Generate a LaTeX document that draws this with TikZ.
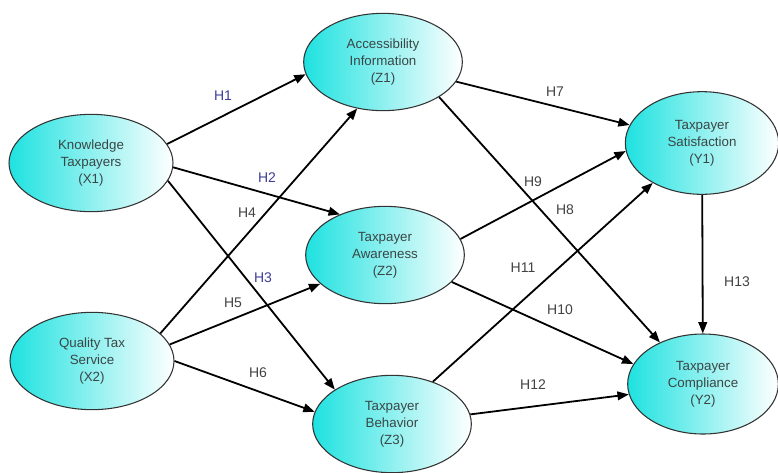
\documentclass[tikz,border=0pt]{standalone}
\usepackage{fontspec}
\setmainfont{Liberation Sans}
\usetikzlibrary{shapes.geometric,arrows.meta}
\definecolor{aqua}{RGB}{30,226,224}
\definecolor{inktext}{RGB}{58,70,70}
\definecolor{hblue}{RGB}{62,62,150}
\definecolor{hgray}{RGB}{66,66,66}

\begin{document}
\begin{tikzpicture}[x=0.75pt,y=-0.75pt,
    latent/.style={draw=black!80,line width=0.8pt,ellipse,left color=aqua,right color=white,
      minimum width=119pt,minimum height=73pt,inner sep=0pt,align=center,text=inktext,
      font=\fontsize{10}{12.75}\selectfont},
    hlab/.style={font=\fontsize{10.5}{12}\selectfont,text=hgray},
    arr/.style={line width=1.35pt,-{Triangle[length=8.5pt,width=6.5pt]}}]
  \useasboundingbox (0,0) rectangle (778,472);
  \node[latent,minimum width=123pt] (X1) at (91,163) {Knowledge\\Taxpayers\\(X1)};
  \node[latent,minimum width=123pt] (X2) at (92,361) {Quality Tax\\Service\\(X2)};
  \node[latent] (Z1) at (383,62) {Accessibility\\Information\\(Z1)};
  \node[latent] (Z2) at (385,255) {Taxpayer\\Awareness\\(Z2)};
  \node[latent] (Z3) at (392,424) {Taxpayer\\Behavior\\(Z3)};
  \node[latent,minimum width=115pt,minimum height=77pt] (Y1) at (702,143) {Taxpayer\\Satisfaction\\(Y1)};
  \node[latent,minimum width=113pt,minimum height=75pt] (Y2) at (703,384) {Taxpayer\\Compliance\\(Y2)};
  \draw[arr] (X1.14) -- (Z1.189);
  \draw[arr] (X1.-3) -- (Z2.138);
  \draw[arr] (X1.-13) -- (Z3.149);
  \draw[arr] (X2.22) -- (Z1.241);
  \draw[arr] (X2.12) -- (Z2.204);
  \draw[arr] (X2.0) -- (Z3.171);
  \draw[arr] (Z1.-15) -- (Y1.166);
  \draw[arr] (Z1.-32) -- (Y2.136);
  \draw[arr] (Z2.12) -- (Y1.186);
  \draw[arr] (Z2.-22) -- (Y2.164);
  \draw[arr] (Z3.46) -- (Y1.219);
  \draw[arr] (Z3.7) -- (Y2.188);
  \draw[arr] (Y1) -- (Y2);
  \node[hlab,text=hblue] (h1) at (223,96) {H1};
  \node[hlab,text=hblue] (h2) at (267,178) {H2};
  \node[hlab,text=hblue] (h3) at (263,278) {H3};
  \node[hlab] (h4) at (247,213) {H4};
  \node[hlab] (h5) at (233,303) {H5};
  \node[hlab] (h6) at (258,373) {H6};
  \node[hlab] (h7) at (555,92) {H7};
  \node[hlab] (h8) at (565,210) {H8};
  \node[hlab] (h9) at (533,182) {H9};
  \node[hlab] (h10) at (560,310) {H10};
  \node[hlab] (h11) at (523,268) {H11};
  \node[hlab] (h12) at (533,385) {H12};
  \node[hlab] (h13) at (737,282) {H13};
\end{tikzpicture}
\end{document}
